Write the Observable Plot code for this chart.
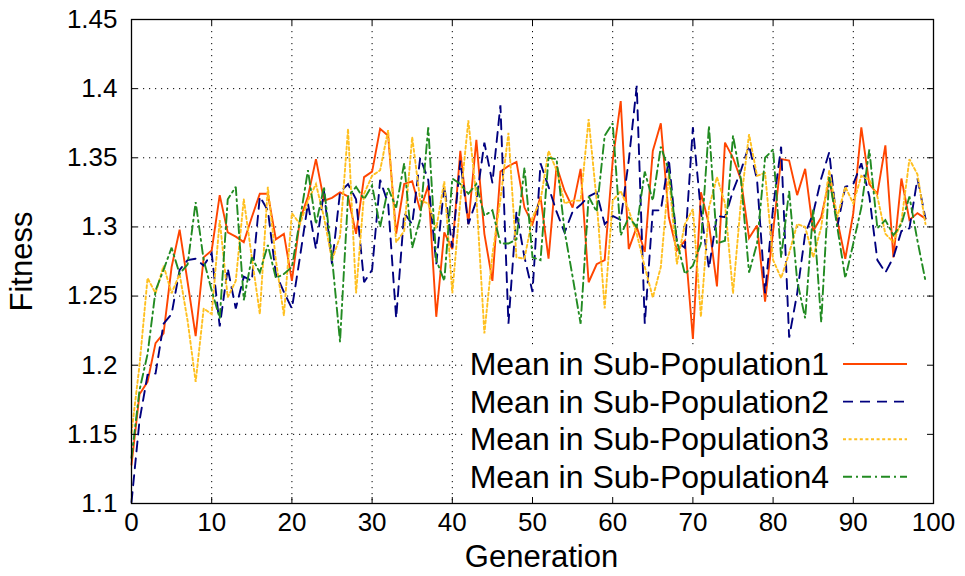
<!DOCTYPE html>
<html>
<head>
<meta charset="utf-8">
<script src="https://cdn.jsdelivr.net/npm/d3@7"></script>
<script src="https://cdn.jsdelivr.net/npm/@observablehq/plot@0.6"></script>
<style>
  html, body { margin: 0; padding: 0; background: #fff; }
  #chart svg { display: block; }
</style>
</head>
<body>
<div id="chart"></div>
<script>
// ---- data ----
const seriesNames = [
  "Mean in Sub-Population1",
  "Mean in Sub-Population2",
  "Mean in Sub-Population3",
  "Mean in Sub-Population4"
];

const sub1 = [1.128,1.179,1.188,1.216,1.223,1.271,1.298,1.260,1.221,1.278,
  1.283,1.323,1.296,1.293,1.289,1.307,1.324,1.324,1.291,1.295,
  1.261,1.305,1.322,1.349,1.319,1.321,1.325,1.322,1.295,1.336,
  1.340,1.371,1.366,1.295,1.331,1.333,1.312,1.330,1.235,1.296,
  1.284,1.355,1.302,1.363,1.295,1.261,1.340,1.344,1.347,1.314,
  1.302,1.322,1.277,1.344,1.326,1.314,1.342,1.260,1.273,1.276,
  1.348,1.391,1.284,1.300,1.282,1.355,1.375,1.307,1.283,1.290,
  1.219,1.325,1.302,1.257,1.361,1.350,1.334,1.292,1.301,1.246,
  1.297,1.349,1.348,1.323,1.342,1.297,1.307,1.334,1.305,1.277,
  1.310,1.372,1.331,1.324,1.359,1.278,1.335,1.305,1.310,1.306];

const sub2 = [1.101,1.160,1.193,1.194,1.230,1.237,1.269,1.276,1.277,1.272,
  1.281,1.228,1.270,1.241,1.264,1.261,1.322,1.312,1.266,1.253,
  1.241,1.278,1.317,1.284,1.326,1.273,1.325,1.331,1.320,1.260,
  1.269,1.334,1.317,1.234,1.310,1.302,1.350,1.334,1.273,1.330,
  1.285,1.348,1.302,1.319,1.361,1.332,1.388,1.230,1.311,1.278,
  1.253,1.346,1.329,1.311,1.296,1.311,1.316,1.322,1.325,1.302,
  1.308,1.305,1.348,1.402,1.230,1.312,1.312,1.349,1.289,1.285,
  1.372,1.311,1.270,1.308,1.307,1.326,1.341,1.359,1.334,1.252,
  1.314,1.358,1.220,1.252,1.295,1.310,1.335,1.354,1.300,1.329,
  1.331,1.346,1.322,1.276,1.267,1.278,1.297,1.299,1.335,1.306];

const sub3 = [1.151,1.200,1.263,1.252,1.272,1.252,1.266,1.232,1.188,1.241,
  1.237,1.305,1.249,1.261,1.320,1.278,1.237,1.329,1.276,1.236,
  1.310,1.302,1.319,1.331,1.307,1.276,1.293,1.371,1.252,1.324,
  1.337,1.341,1.370,1.289,1.297,1.365,1.319,1.317,1.299,1.333,
  1.252,1.319,1.377,1.322,1.223,1.280,1.320,1.368,1.278,1.277,
  1.307,1.319,1.355,1.341,1.317,1.319,1.319,1.378,1.319,1.241,
  1.319,1.326,1.312,1.295,1.271,1.249,1.271,1.338,1.273,1.302,
  1.313,1.235,1.314,1.336,1.317,1.252,1.319,1.367,1.337,1.339,
  1.276,1.263,1.281,1.302,1.300,1.278,1.300,1.341,1.307,1.329,
  1.317,1.337,1.334,1.322,1.295,1.289,1.304,1.349,1.338,1.302];

const sub4 = [1.133,1.182,1.208,1.254,1.269,1.285,1.266,1.273,1.318,1.276,
  1.254,1.234,1.320,1.329,1.247,1.278,1.267,1.287,1.263,1.266,
  1.271,1.305,1.341,1.302,1.329,1.278,1.217,1.322,1.329,1.320,
  1.330,1.300,1.328,1.314,1.346,1.285,1.306,1.372,1.276,1.261,
  1.335,1.331,1.324,1.331,1.308,1.312,1.288,1.288,1.291,1.343,
  1.278,1.276,1.350,1.349,1.297,1.264,1.230,1.322,1.311,1.366,
  1.375,1.294,1.307,1.300,1.340,1.319,1.358,1.341,1.290,1.266,
  1.272,1.288,1.373,1.288,1.290,1.366,1.334,1.267,1.288,1.350,
  1.356,1.278,1.326,1.261,1.234,1.313,1.231,1.336,1.300,1.263,
  1.288,1.314,1.356,1.299,1.305,1.294,1.302,1.322,1.290,1.261];

const xTicks = [0, 10, 20, 30, 40, 50, 60, 70, 80, 90, 100];
const yTicks = [1.1, 1.15, 1.2, 1.25, 1.3, 1.35, 1.4, 1.45];
const xLabel = "Generation";
const yLabel = "Fitness";

// ---- styling ----
const colors = ["#ff4500", "#00007f", "#ffc020", "#228b22"];
const dashes = [null, "10,7", "3,2.6", "9,4,2,4"];
const font = "'Liberation Sans', Arial, Helvetica, sans-serif";

const allSeries = [sub1, sub2, sub3, sub4];
const rows = allSeries.flatMap((vals, i) =>
  vals.map((v, g) => ({generation: g, fitness: v, series: seriesNames[i]})));

const W = 965, H = 576;
const mL = 131, mR = 32, mT = 19, mB = 73;
const innerW = W - mL - mR, innerH = H - mT - mB;
const tickLen = 6;

const lineMarks = seriesNames.map((name, i) =>
  Plot.line(rows.filter(d => d.series === name), {
    x: "generation", y: "fitness",
    stroke: colors[i], strokeWidth: 1.9,
    strokeDasharray: dashes[i] || undefined,
    strokeLinejoin: "miter", strokeMiterlimit: 3
  }));

const chart = Plot.plot({
  width: W, height: H,
  marginLeft: mL, marginRight: mR, marginTop: mT, marginBottom: mB,
  style: {fontFamily: font, background: "#fff", color: "#000"},
  x: {domain: [0, 100], axis: null},
  y: {domain: [1.1, 1.45], axis: null},
  marks: [
    Plot.gridX(xTicks.slice(1, -1), {stroke: "#000", strokeOpacity: 1, strokeWidth: 1, strokeDasharray: "1.2,4.8"}),
    Plot.gridY(yTicks.slice(1, -1), {stroke: "#000", strokeOpacity: 1, strokeWidth: 1, strokeDasharray: "1.2,4.8"}),
    ...lineMarks,
    // inward ticks on all four sides
    Plot.tickX(xTicks, {x: d => d, insetTop: innerH - tickLen, stroke: "#000"}),
    Plot.tickX(xTicks, {x: d => d, insetBottom: innerH - tickLen, stroke: "#000"}),
    Plot.tickY(yTicks, {y: d => d, insetRight: innerW - tickLen, stroke: "#000"}),
    Plot.tickY(yTicks, {y: d => d, insetLeft: innerW - tickLen, stroke: "#000"}),
    Plot.frame({stroke: "#000", strokeWidth: 1.3}),
    Plot.axisX(xTicks, {tickSize: 0, tickPadding: 9, fontSize: 26, tickFormat: d => String(d), label: null}),
    Plot.axisY(yTicks, {tickSize: 0, tickPadding: 14, fontSize: 26, tickFormat: d => String(+d.toFixed(2)), label: null}),
    Plot.text([xLabel], {frameAnchor: "bottom", lineAnchor: "middle", textAnchor: "middle", dy: 54, dx: 9, fontSize: 31, fill: "#000"}),
    Plot.text([yLabel], {frameAnchor: "left", lineAnchor: "middle", textAnchor: "middle", dx: -109, rotate: -90, fontSize: 31, fill: "#000"})
  ]
});

document.getElementById("chart").appendChild(chart);

// ---- in-plot legend (bottom right, opaque box like gnuplot) ----
const svg = d3.select(chart);
const firstLine = chart.querySelector('g[aria-label="line"]');
const bg = document.createElementNS("http://www.w3.org/2000/svg", "rect");
chart.insertBefore(bg, firstLine);
d3.select(bg)
  .attr("x", 467).attr("y", 345)
  .attr("width", W - mR - 467 - 1).attr("height", H - mB - 345 - 1)
  .attr("fill", "#fff");

const leg = svg.append("g").attr("font-family", font).attr("font-size", 32);
seriesNames.forEach((name, i) => {
  const y = 364 + i * 37.6;
  leg.append("text")
    .attr("x", 829).attr("y", y)
    .attr("text-anchor", "end")
    .attr("dominant-baseline", "central")
    .attr("fill", "#000")
    .text(name);
  leg.append("line")
    .attr("x1", 843).attr("x2", 907)
    .attr("y1", y).attr("y2", y)
    .attr("stroke", colors[i])
    .attr("stroke-width", 1.9)
    .attr("stroke-dasharray", dashes[i]);
});
</script>
</body>
</html>
